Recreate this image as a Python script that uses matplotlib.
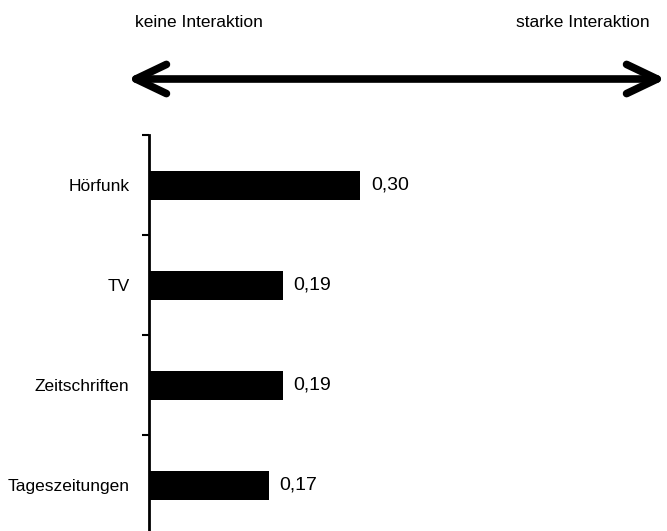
import matplotlib
matplotlib.use("Agg")
import matplotlib.pyplot as plt
from matplotlib.patches import FancyArrowPatch

categories = ["Hörfunk", "TV", "Zeitschriften", "Tageszeitungen"]
values = [0.30, 0.19, 0.19, 0.17]
value_labels = ["0,30", "0,19", "0,19", "0,17"]
left_label = "keine Interaktion"
right_label = "starke Interaktion"

plt.rcParams["font.family"] = ["Liberation Sans", "DejaVu Sans"]
FS = 12.5

W, H = 667, 531
fig = plt.figure(figsize=(W / 100, H / 100), dpi=100)

ax_left = 149 / W
ax_top = 135
ax_bot = 535
ax = fig.add_axes([ax_left, (H - ax_bot) / H, 1 - ax_left, (ax_bot - ax_top) / H])

ypos = list(range(len(categories)))
ax.barh(ypos, values, height=0.29, color="black")
ax.set_ylim(len(categories) - 0.5, -0.5)
ax.set_xlim(0, (W - 149) / 703)

for s in ["top", "right", "bottom"]:
    ax.spines[s].set_visible(False)
ax.spines["left"].set_linewidth(2)
ax.set_xticks([])

ax.set_yticks([i - 0.5 for i in range(len(categories) + 1)])
ax.set_yticklabels([])
ax.tick_params(axis="y", which="major", direction="out", length=5, width=1.5)
ax.set_yticks(ypos, minor=True)
ax.set_yticklabels(categories, minor=True, fontsize=FS)
ax.tick_params(axis="y", which="minor", length=0, pad=14)

for y, v, lab in zip(ypos, values, value_labels):
    ax.annotate(lab, xy=(v, y), xytext=(8, 0), textcoords="offset points",
                ha="left", va="center", fontsize=14)

arrow = FancyArrowPatch((127 / W, 1 - 79 / H), (666 / W, 1 - 79 / H),
                        transform=fig.transFigure,
                        arrowstyle="<->,head_length=22,head_width=10.5",
                        mutation_scale=1, lw=5.5, color="black",
                        capstyle="round", joinstyle="round",
                        shrinkA=0, shrinkB=0)
fig.add_artist(arrow)

fig.text(135 / W, 1 - 27 / H, left_label, ha="left", va="baseline", fontsize=FS)
fig.text(650 / W, 1 - 27 / H, right_label, ha="right", va="baseline", fontsize=FS)

fig.savefig("out.png", dpi=100)
